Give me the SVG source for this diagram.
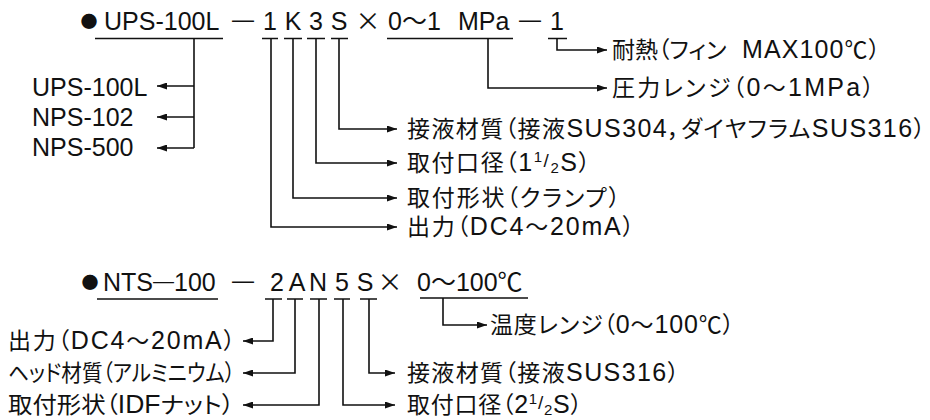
<svg xmlns="http://www.w3.org/2000/svg" width="930" height="420" viewBox="0 0 930 420">
<style>
text{font-family:'Liberation Sans','Noto Sans CJK JP',sans-serif;fill:#111}
.code{font-size:25px}
.lab{font-size:25px}
.desc{font-size:23px;font-feature-settings:'palt' 1}
.l{font-size:25px}
.sm{font-size:15px}
.cj{font-family:'Noto Sans CJK JP',sans-serif}
.dash{font-size:22px;text-anchor:middle}
.bul{font-family:'Noto Sans CJK JP',sans-serif;font-size:17px;text-anchor:middle}
.mid{text-anchor:middle}
.ln{fill:none;stroke:#111;stroke-width:1.6}
.ul{fill:none;stroke:#111;stroke-width:1.6}
</style>
<defs>
<marker id="ah" markerUnits="userSpaceOnUse" markerWidth="10" markerHeight="7" refX="10" refY="3.5" orient="auto">
<path d="M0,0 L10,3.5 L0,7 z" fill="#111"/>
</marker>
</defs>
<rect width="930" height="420" fill="#fff"/>

<!-- ===== Top code: UPS-100L ===== -->
<g id="code-ups">
<text class="bul" x="89" y="28">●</text>
<text class="code" x="104" y="30">UPS-100L</text>
<text class="dash" x="243" y="27">—</text>
<text class="code mid" x="270" y="30">1</text>
<text class="code mid" x="293" y="30">K</text>
<text class="code mid" x="316" y="30">3</text>
<text class="code mid" x="339" y="30">S</text>
<text class="code mid cj" x="368" y="30">×</text>
<text class="code" x="388" y="30">0～1</text>
<text class="code" x="458" y="30">MPa</text>
<text class="dash" x="530" y="27">—</text>
<text class="code mid" x="557" y="30">1</text>
</g>

<g id="model-list">
<text class="lab" x="32" y="96">UPS-100L</text>
<text class="lab" x="32" y="126">NPS-102</text>
<text class="lab" x="32" y="156">NPS-500</text>
</g>

<g id="fin"><text class="desc" x="612" y="58">耐熱（フィン</text><text class="desc" x="742" y="58" textLength="138" lengthAdjust="spacing"><tspan class="l">MAX100</tspan>℃）</text></g>
<g id="pressure"><text class="desc" x="612" y="96" textLength="262" lengthAdjust="spacing">圧力レンジ（<tspan class="l">0</tspan>～<tspan class="l">1MPa</tspan>）</text></g>
<g id="wetted1"><text class="desc" x="407" y="137" textLength="518" lengthAdjust="spacing">接液材質（接液<tspan class="l">SUS304</tspan>，ダイヤフラム<tspan class="l">SUS316</tspan>）</text></g>
<g id="port1"><text class="desc" x="407" y="171" textLength="183" lengthAdjust="spacing">取付口径（<tspan class="l">1</tspan><tspan class="sm" dy="-9">1</tspan><tspan dy="5" style="font-size:19px">/</tspan><tspan class="sm" dy="6">2</tspan><tspan class="l" dy="-2">S</tspan>）</text></g>
<g id="mount1"><text class="desc" x="407" y="206" textLength="213" lengthAdjust="spacing">取付形状（クランプ）</text></g>
<g id="output1"><text class="desc" x="407" y="235" textLength="227" lengthAdjust="spacing">出力（<tspan class="l">DC4</tspan>～<tspan class="l">20mA</tspan>）</text></g>

<!-- ===== Bottom code: NTS-100 ===== -->
<g id="code-nts">
<text class="bul" x="90" y="289">●</text>
<text class="code" x="103" y="291">NTS<tspan dy="-3" style="font-size:21px">—</tspan><tspan dy="3">100</tspan></text>
<text class="dash" x="243" y="288">—</text>
<text class="code mid" x="277" y="291">2</text>
<text class="code mid" x="297" y="291">A</text>
<text class="code mid" x="318" y="291">N</text>
<text class="code mid" x="342" y="291">5</text>
<text class="code mid" x="365" y="291">S</text>
<text class="code mid cj" x="390" y="291">×</text>
<text class="code" x="417" y="291">0～100℃</text>
</g>

<g id="temp"><text class="desc" x="490" y="333" textLength="244" lengthAdjust="spacing">温度レンジ（<tspan class="l">0</tspan>～<tspan class="l">100</tspan>℃）</text></g>
<g id="output2"><text class="desc" x="8" y="349" textLength="227" lengthAdjust="spacing">出力（<tspan class="l">DC4</tspan>～<tspan class="l">20mA</tspan>）</text></g>
<g id="head"><text class="desc" x="8" y="381" textLength="227" lengthAdjust="spacingAndGlyphs">ヘッド材質（アルミニウム）</text></g>
<g id="mount2"><text class="desc" x="8" y="413" textLength="226" lengthAdjust="spacingAndGlyphs">取付形状（<tspan class="l">IDF</tspan>ナット）</text></g>
<g id="wetted2"><text class="desc" x="407" y="381" textLength="272" lengthAdjust="spacing">接液材質（接液<tspan class="l">SUS316</tspan>）</text></g>
<g id="port2"><text class="desc" x="407" y="413" textLength="175" lengthAdjust="spacing">取付口径（<tspan class="l">2</tspan><tspan class="sm" dy="-9">1</tspan><tspan dy="5" style="font-size:19px">/</tspan><tspan class="sm" dy="6">2</tspan><tspan class="l" dy="-2">S</tspan>）</text></g>

<!-- ===== Connectors ===== -->
<g id="connectors">
<path class="ul" d="M95,38.5H223 M262,38.5H278 M284,38.5H302 M307,38.5H325 M331,38.5H348 M387,38.5H513 M548,38.5H567"/>
<path class="ln" d="M194,38.5V148"/>
<path class="ln" d="M194,86H157" marker-end="url(#ah)"/>
<path class="ln" d="M194,117H157" marker-end="url(#ah)"/>
<path class="ln" d="M194,148H157" marker-end="url(#ah)"/>
<path class="ln" d="M557,38.5V50H607" marker-end="url(#ah)"/>
<path class="ln" d="M488,38.5V88H607" marker-end="url(#ah)"/>
<path class="ln" d="M339,38.5V129H397" marker-end="url(#ah)"/>
<path class="ln" d="M316,38.5V163H397" marker-end="url(#ah)"/>
<path class="ln" d="M293,38.5V198H397" marker-end="url(#ah)"/>
<path class="ln" d="M271,38.5V227H397" marker-end="url(#ah)"/>

<path class="ul" d="M97,299H218 M265,299H282 M287,299H303 M310,299H327 M334,299H350 M360,299H377 M420,298H528"/>
<path class="ln" d="M273,299V341H243" marker-end="url(#ah)"/>
<path class="ln" d="M295,299V373H243" marker-end="url(#ah)"/>
<path class="ln" d="M319,299V405H243" marker-end="url(#ah)"/>
<path class="ln" d="M343,299V405H395" marker-end="url(#ah)"/>
<path class="ln" d="M369,299V373H395" marker-end="url(#ah)"/>
<path class="ln" d="M443,298V325H487" marker-end="url(#ah)"/>
</g>
</svg>
